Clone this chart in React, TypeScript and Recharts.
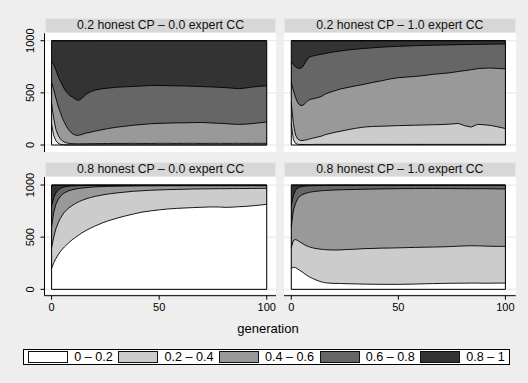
import React from 'react';
import { ComposedChart, Area, XAxis, YAxis, CartesianGrid, ReferenceArea } from 'recharts';

// ---------------- data ----------------
const POPULATION = 1000;
const GENERATIONS = [0, 1, 2, 3, 4, 5, 6, 7, 8, 9, 10, 11, 12, 13, 14, 15, 16, 18, 20, 23, 26, 30, 34, 38, 42, 46, 50, 54, 58, 62, 66, 70, 74, 78, 81, 84, 87, 90, 93, 96, 100];
const BIN_LABELS = ['0 – 0.2', '0.2 – 0.4', '0.4 – 0.6', '0.6 – 0.8', '0.8 – 1'];
const PANEL_TITLES = [
  '0.2 honest CP – 0.0 expert CC',
  '0.2 honest CP – 1.0 expert CC',
  '0.8 honest CP – 0.0 expert CC',
  '0.8 honest CP – 1.0 expert CC',
];
const Y_TICKS = [0, 500, 1000];
const X_TICKS = [0, 50, 100];
const X_TITLE = 'generation';

// cumulative counts of agents (out of 1000) with value below 0.2 / 0.4 / 0.6 / 0.8
// panel 1: 0.2 honest CP – 0.0 expert CC
const P1_BELOW_02 = [200, 90, 40, 16, 7, 3, 2, 1, 1, 1, 1, 1, 1, 1, 1, 1, 1, 1, 1, 1, 1, 1, 1, 1, 1, 1, 1, 1, 1, 1, 1, 1, 1, 1, 1, 1, 1, 1, 1, 1, 1];
const P1_BELOW_04 = [400, 250, 150, 95, 60, 40, 28, 20, 16, 14, 13, 12, 12, 12, 12, 12, 12, 13, 13, 14, 14, 15, 15, 16, 15, 15, 16, 16, 15, 16, 16, 15, 16, 16, 15, 16, 16, 15, 16, 16, 16];
const P1_BELOW_06 = [600, 530, 450, 375, 315, 260, 215, 175, 145, 120, 105, 95, 92, 95, 100, 107, 115, 122, 132, 145, 157, 170, 180, 190, 197, 204, 207, 210, 212, 213, 215, 216, 212, 208, 205, 200, 198, 200, 205, 212, 220];
const P1_BELOW_08 = [800, 770, 720, 660, 615, 575, 535, 505, 485, 468, 455, 440, 428, 432, 448, 465, 485, 510, 525, 538, 545, 553, 558, 562, 566, 570, 571, 569, 567, 566, 563, 560, 557, 553, 550, 545, 540, 546, 555, 562, 567];

// panel 2: 0.2 honest CP – 1.0 expert CC
const P2_BELOW_02 = [200, 50, 15, 7, 5, 5, 5, 5, 5, 5, 5, 6, 6, 6, 6, 6, 6, 6, 6, 6, 6, 6, 6, 6, 6, 6, 6, 6, 6, 6, 6, 6, 6, 6, 6, 6, 6, 6, 6, 6, 6];
const P2_BELOW_04 = [400, 200, 95, 58, 46, 43, 45, 50, 55, 60, 65, 70, 75, 80, 85, 92, 100, 110, 120, 132, 145, 160, 172, 178, 180, 183, 186, 188, 190, 192, 194, 196, 200, 207, 185, 172, 198, 194, 188, 176, 158];
const P2_BELOW_06 = [600, 520, 455, 405, 382, 378, 390, 410, 428, 438, 442, 448, 452, 458, 465, 477, 490, 505, 518, 538, 550, 567, 582, 600, 615, 633, 645, 652, 658, 666, 677, 685, 692, 705, 713, 722, 732, 736, 738, 735, 730];
const P2_BELOW_08 = [800, 770, 748, 737, 735, 742, 770, 805, 835, 848, 853, 857, 862, 866, 870, 874, 878, 886, 893, 902, 910, 918, 925, 932, 938, 943, 946, 949, 952, 955, 957, 958, 960, 962, 963, 964, 965, 966, 967, 968, 968];

// panel 3: 0.8 honest CP – 0.0 expert CC
const P3_BELOW_02 = [200, 255, 295, 330, 360, 385, 408, 428, 447, 465, 482, 497, 512, 526, 540, 552, 564, 585, 605, 632, 655, 680, 702, 722, 740, 752, 762, 770, 776, 780, 784, 787, 790, 789, 786, 788, 792, 795, 800, 806, 815];
const P3_BELOW_04 = [400, 500, 580, 635, 678, 712, 740, 762, 780, 795, 810, 822, 833, 843, 852, 860, 867, 880, 890, 903, 913, 924, 932, 940, 945, 950, 953, 956, 958, 960, 962, 963, 964, 965, 965, 966, 966, 967, 967, 968, 968];
const P3_BELOW_06 = [600, 740, 815, 860, 890, 910, 925, 936, 945, 952, 957, 961, 965, 968, 971, 973, 975, 979, 982, 985, 987, 989, 990, 991, 992, 992, 993, 993, 993, 993, 993, 993, 993, 993, 993, 993, 993, 993, 993, 993, 993];
const P3_BELOW_08 = [800, 880, 925, 950, 966, 976, 982, 986, 989, 991, 992, 993, 994, 995, 995, 996, 996, 997, 997, 997, 997, 997, 997, 997, 997, 997, 997, 997, 997, 997, 997, 997, 997, 997, 997, 997, 997, 997, 997, 997, 997];

// panel 4: 0.8 honest CP – 1.0 expert CC
const P4_BELOW_02 = [200, 212, 208, 195, 182, 168, 153, 138, 125, 114, 104, 95, 86, 79, 72, 67, 63, 59, 57, 56, 54, 52, 50, 49, 48, 48, 48, 49, 51, 53, 55, 57, 58, 59, 59, 60, 60, 59, 59, 60, 60];
const P4_BELOW_04 = [400, 470, 478, 468, 455, 442, 430, 418, 410, 403, 398, 393, 390, 387, 384, 382, 380, 378, 377, 378, 382, 385, 390, 392, 395, 396, 398, 400, 402, 404, 405, 407, 410, 414, 416, 418, 417, 415, 413, 412, 412];
const P4_BELOW_06 = [600, 760, 825, 870, 893, 906, 915, 922, 928, 932, 936, 939, 941, 943, 945, 947, 948, 950, 952, 954, 956, 958, 960, 961, 963, 964, 965, 966, 966, 967, 967, 966, 966, 965, 965, 964, 965, 965, 964, 963, 962];
const P4_BELOW_08 = [800, 905, 950, 970, 980, 986, 989, 991, 992, 993, 994, 994, 995, 995, 995, 996, 996, 997, 997, 997, 997, 997, 997, 997, 997, 997, 997, 997, 997, 997, 997, 997, 997, 997, 997, 997, 997, 997, 997, 997, 997];

// ---------------- styling / layout ----------------
const W = 528;
const H = 383;
const FONT = '"Liberation Sans", Arial, Helvetica, sans-serif';
const BG = '#eeeeee';
const FILLS = ['#ffffff', '#cccccc', '#999999', '#666666', '#333333'];
const LINE = '#000000';

type Layout = {
  plotLeft: number; whiteLeft: number; right: number;
  top: number; whiteBottom: number; bottom: number; headerTop: number;
  showY: boolean; showX: boolean; xDomain: [number, number]; yDomain: [number, number];
};

const LEFT_X: [number, number] = [-3.3, 104.3];
const RIGHT_X: [number, number] = [-3.4, 104.8];
const TOP_Y: [number, number] = [-67, 1071];
const BOT_Y: [number, number] = [-61, 1077];

const LAYOUTS: Layout[] = [
  { plotLeft: 44.5, whiteLeft: 45, right: 276, top: 33.3, whiteBottom: 152, bottom: 152, headerTop: 18.3, showY: true, showX: false, xDomain: LEFT_X, yDomain: TOP_Y },
  { plotLeft: 284, whiteLeft: 284, right: 515.7, top: 33.3, whiteBottom: 152, bottom: 152, headerTop: 18.3, showY: false, showX: false, xDomain: RIGHT_X, yDomain: TOP_Y },
  { plotLeft: 44.5, whiteLeft: 45, right: 276, top: 177, whiteBottom: 293.5, bottom: 295.7, headerTop: 161.7, showY: true, showX: true, xDomain: LEFT_X, yDomain: BOT_Y },
  { plotLeft: 284, whiteLeft: 284, right: 515.7, top: 177, whiteBottom: 293.5, bottom: 295.7, headerTop: 161.7, showY: false, showX: true, xDomain: RIGHT_X, yDomain: BOT_Y },
];

const PANEL_SERIES = [
  [P1_BELOW_02, P1_BELOW_04, P1_BELOW_06, P1_BELOW_08],
  [P2_BELOW_02, P2_BELOW_04, P2_BELOW_06, P2_BELOW_08],
  [P3_BELOW_02, P3_BELOW_04, P3_BELOW_06, P3_BELOW_08],
  [P4_BELOW_02, P4_BELOW_04, P4_BELOW_06, P4_BELOW_08],
];

const YTick = (props: any) => {
  const { x, y, payload } = props;
  return (
    <text x={x} y={y} transform={`rotate(-90 ${x} ${y})`} textAnchor="middle" fontSize={11} fill="#000" fontFamily={FONT}>
      {payload.value}
    </text>
  );
};

function Panel({ idx }: { idx: number }) {
  const L = LAYOUTS[idx];
  const s = PANEL_SERIES[idx];
  const rows = GENERATIONS.map((g, i) => ({
    gen: g,
    total: POPULATION,
    c4: s[3][i],
    c3: s[2][i],
    c2: s[1][i],
    c1: s[0][i],
  }));
  const yW = L.showY ? 20 : 0;
  const xH = L.showX ? 30 : 0;
  const margin = { left: L.plotLeft - yW, right: W - L.right, top: L.top, bottom: H - L.bottom - xH };
  return (
    <>
      <div style={{ position: 'absolute', left: L.whiteLeft, top: L.top, width: L.right - L.whiteLeft, height: L.whiteBottom - L.top, background: '#ffffff' }} />
      <div style={{
        position: 'absolute', left: L.whiteLeft, top: L.headerTop, width: L.right - L.whiteLeft, height: 15,
        boxSizing: 'border-box', background: '#d7d7d7', border: '1px solid #e2e8ec',
        fontFamily: FONT, fontSize: 12.3, color: '#111', textAlign: 'center', lineHeight: '13px', whiteSpace: 'nowrap',
      }}>{PANEL_TITLES[idx]}</div>
      <div style={{ position: 'absolute', left: 0, top: 0 }}>
        <ComposedChart width={W} height={H} data={rows} margin={margin}>
          <CartesianGrid vertical={false} horizontal stroke="#e4e4e4" horizontalValues={Y_TICKS} />
          <XAxis dataKey="gen" type="number" domain={L.xDomain} ticks={X_TICKS} allowDataOverflow hide={!L.showX}
            height={30} tickSize={4} tickMargin={3} interval={0}
            axisLine={{ stroke: LINE }} tickLine={{ stroke: LINE }}
            tick={{ fontSize: 11, fill: '#000', fontFamily: FONT }} />
          <YAxis type="number" domain={L.yDomain} ticks={Y_TICKS} allowDataOverflow hide={!L.showY}
            width={20} tickSize={4} tickMargin={6.5} interval={0}
            axisLine={{ stroke: LINE }} tickLine={{ stroke: LINE }} tick={<YTick />} />
          <Area type="linear" dataKey="total" baseValue={0} fill={FILLS[4]} fillOpacity={1} stroke={LINE} strokeWidth={0.9} dot={false} activeDot={false} isAnimationActive={false} />
          <Area type="linear" dataKey="c4" baseValue={0} fill={FILLS[3]} fillOpacity={1} stroke={LINE} strokeWidth={0.9} dot={false} activeDot={false} isAnimationActive={false} />
          <Area type="linear" dataKey="c3" baseValue={0} fill={FILLS[2]} fillOpacity={1} stroke={LINE} strokeWidth={0.9} dot={false} activeDot={false} isAnimationActive={false} />
          <Area type="linear" dataKey="c2" baseValue={0} fill={FILLS[1]} fillOpacity={1} stroke={LINE} strokeWidth={0.9} dot={false} activeDot={false} isAnimationActive={false} />
          <Area type="linear" dataKey="c1" baseValue={0} fill={FILLS[0]} fillOpacity={1} stroke={LINE} strokeWidth={0.9} dot={false} activeDot={false} isAnimationActive={false} />
          <ReferenceArea x1={0} x2={100} y1={0} y2={POPULATION} fill="none" fillOpacity={0} stroke={LINE} strokeWidth={1} ifOverflow="visible" />
        </ComposedChart>
      </div>
    </>
  );
}

export default function App() {
  return (
    <div style={{ position: 'absolute', left: 0, top: 0, width: W, height: H, background: BG, overflow: 'hidden', fontFamily: FONT }}>
      {[0, 1, 2, 3].map((i) => <Panel key={i} idx={i} />)}
      <div style={{ position: 'absolute', left: 268, top: 328, transform: 'translate(-50%, -50%)', fontSize: 13, color: '#000', whiteSpace: 'nowrap' }}>{X_TITLE}</div>
      <div style={{
        position: 'absolute', left: 23, top: 349.3, width: 487, height: 15.7, boxSizing: 'border-box',
        border: '1px solid #000', background: '#fff', overflow: 'hidden', display: 'flex', alignItems: 'center',
        paddingLeft: 4.3, whiteSpace: 'nowrap',
      }}>
        {BIN_LABELS.map((lab, i) => (
          <div key={lab} style={{ display: 'flex', alignItems: 'center', flex: '0 0 auto' }}>
            <div style={{ width: 40, height: 11.4, boxSizing: 'border-box', border: '1px solid #111', background: FILLS[i] }} />
            <span style={{ marginLeft: 6, marginRight: i === BIN_LABELS.length - 1 ? 0 : 5.6, fontSize: 12.6, color: '#000', lineHeight: '13px' }}>{lab}</span>
          </div>
        ))}
      </div>
    </div>
  );
}
